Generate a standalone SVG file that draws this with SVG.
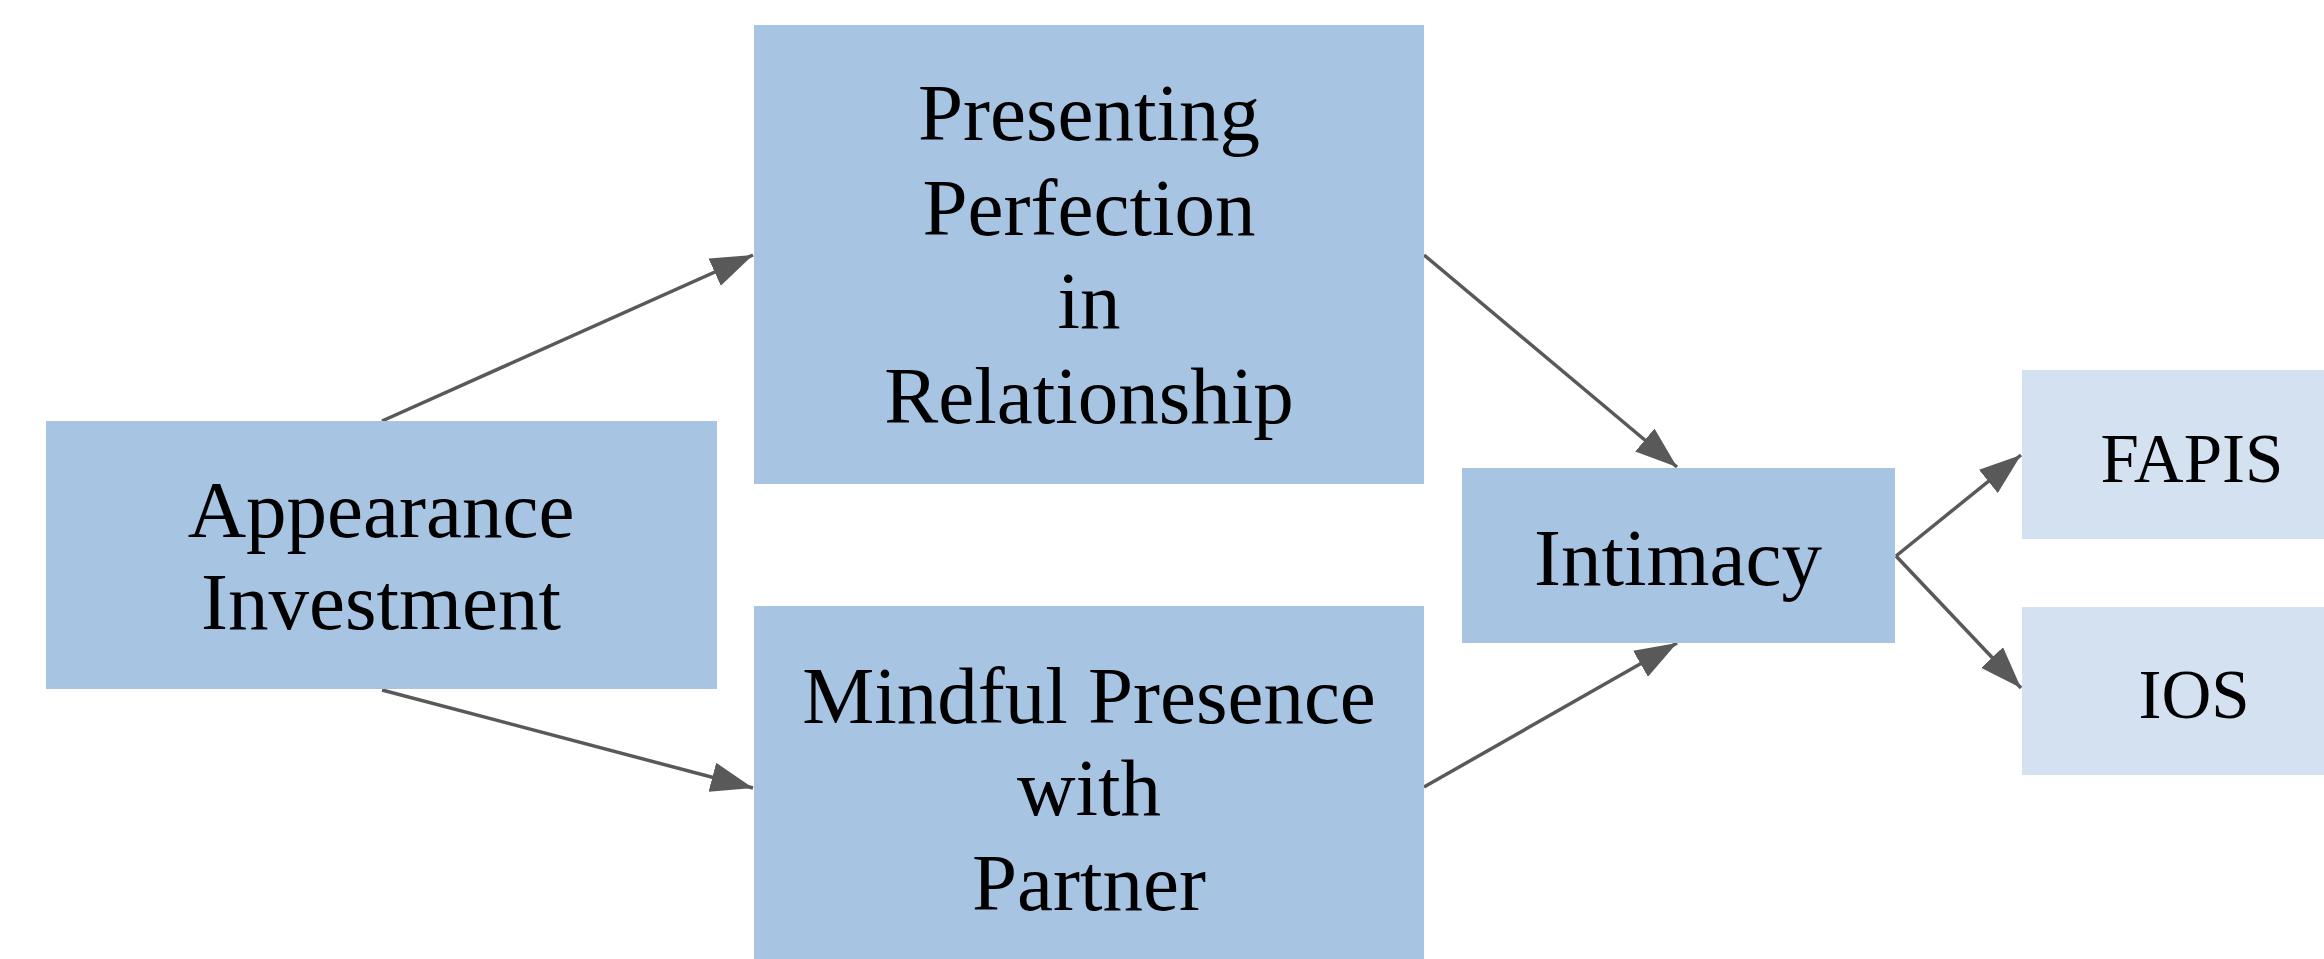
<svg xmlns="http://www.w3.org/2000/svg" width="2324" height="959" viewBox="0 0 2324 959">
<defs>
<style>
.box{fill:#A7C4E3;}
.lbox{fill:#D3E1F0;}
.t{font-family:"Liberation Serif","Times New Roman",serif;font-size:81px;fill:#000;text-anchor:middle;}
.ts{font-family:"Liberation Serif","Times New Roman",serif;font-size:69px;fill:#000;text-anchor:middle;}
.c{stroke:#595959;stroke-width:3.5;fill:none;marker-end:url(#ah);}
</style>
<marker id="ah" markerWidth="42" markerHeight="30" refX="42" refY="15" orient="auto" markerUnits="userSpaceOnUse">
<path d="M0,0 L42,15 L0,30 z" fill="#595959"/>
</marker>
</defs>
<rect width="2324" height="959" fill="#fff"/>
<g id="connectors">
<line class="c" x1="382" y1="421" x2="753" y2="255"/>
<line class="c" x1="382" y1="690" x2="753" y2="788"/>
<line class="c" x1="1424" y1="255" x2="1677" y2="467"/>
<line class="c" x1="1424" y1="787" x2="1677" y2="643"/>
<line class="c" x1="1896" y1="556" x2="2021" y2="455"/>
<line class="c" x1="1896" y1="556" x2="2021" y2="688"/>
</g>
<g id="appearance">
<rect class="box" x="46" y="421" width="671" height="268"/>
<text class="t" x="381" y="537">Appearance</text>
<text class="t" x="381" y="629">Investment</text>
</g>
<g id="presenting">
<rect class="box" x="754" y="25" width="670" height="459"/>
<text class="t" x="1089" y="140">Presenting</text>
<text class="t" x="1089" y="235">Perfection</text>
<text class="t" x="1089" y="328">in</text>
<text class="t" x="1089" y="423">Relationship</text>
</g>
<g id="mindful">
<rect class="box" x="754" y="606" width="670" height="360"/>
<text class="t" x="1089" y="723">Mindful Presence</text>
<text class="t" x="1089" y="815">with</text>
<text class="t" x="1089" y="910">Partner</text>
</g>
<g id="intimacy">
<rect class="box" x="1462" y="468" width="433" height="175"/>
<text class="t" x="1678" y="585">Intimacy</text>
</g>
<g id="fapis">
<rect class="lbox" x="2022" y="370" width="340" height="169"/>
<text class="ts" x="2192" y="482">FAPIS</text>
</g>
<g id="ios">
<rect class="lbox" x="2022" y="607" width="340" height="168"/>
<text class="ts" x="2194" y="718">IOS</text>
</g>
</svg>
